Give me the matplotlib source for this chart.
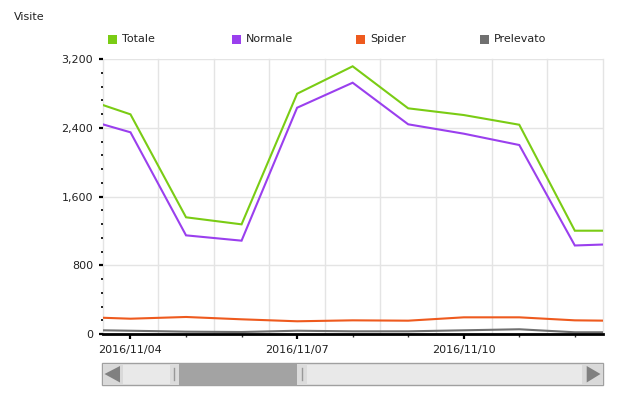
import matplotlib
matplotlib.use('Agg')
import matplotlib.pyplot as plt
import matplotlib.dates as mdates
from matplotlib.patches import Rectangle, Polygon
from matplotlib.ticker import MultipleLocator, FuncFormatter
from matplotlib.lines import Line2D
import numpy as np
from datetime import datetime, timedelta

# ---- data ----
dates = ['2016-11-03', '2016-11-04', '2016-11-05', '2016-11-06', '2016-11-07',
         '2016-11-08', '2016-11-09', '2016-11-10', '2016-11-11', '2016-11-12',
         '2016-11-13']
totale = [2774, 2556, 1358, 1276, 2796, 3115, 2626, 2548, 2435, 1202, 1202]
normale = [2533, 2347, 1148, 1086, 2633, 2924, 2440, 2331, 2199, 1030, 1052]
spider = [200, 178, 198, 171, 148, 159, 155, 194, 194, 159, 152]
prelevato = [48, 38, 27, 23, 38, 31, 31, 43, 55, 20, 20]

series_names = ['Totale', 'Normale', 'Spider', 'Prelevato']
series_values = [totale, normale, spider, prelevato]
series_colors = ['#7ACC14', '#9A3FEE', '#EE5A1E', '#707070']

y_title = 'Visite'
x_ticks_labeled = ['2016-11-04', '2016-11-07', '2016-11-10']

W, H = 621, 399
fig = plt.figure(figsize=(W / 100, H / 100), dpi=100)
plt.rcParams['font.family'] = ['DejaVu Sans']

# UI overlay in pixel coordinates (y downward)
ui = fig.add_axes([0, 0, 1, 1], zorder=-1)
ui.set_xlim(0, W)
ui.set_ylim(H, 0)
ui.axis('off')

ax = fig.add_axes([102.7 / W, (H - 334) / H, 499.9 / W, 275 / H])
ax.set_facecolor('none')

x = [datetime.strptime(d, '%Y-%m-%d') for d in dates]
for name, vals, col in zip(series_names, series_values, series_colors):
    ax.plot(x, vals, color=col, lw=1.5, solid_joinstyle='miter', zorder=3)

x0 = datetime(2016, 11, 3, 12)
x1 = datetime(2016, 11, 12, 12)
ax.set_xlim(x0, x1)
ax.set_ylim(0, 3200)

# grid
ax.yaxis.set_major_locator(MultipleLocator(800))
ax.yaxis.set_minor_locator(MultipleLocator(160))
ax.yaxis.set_major_formatter(FuncFormatter(lambda v, p: f'{int(v):,}'))
ax.grid(axis='y', which='major', color='#E4E4E4', lw=1, zorder=0)
noon = x0
while noon <= x1:
    ax.axvline(noon, color='#E4E4E4', lw=1, zorder=0, clip_on=False)
    noon += timedelta(days=1)

ax.set_xticks([datetime.strptime(d, '%Y-%m-%d') for d in x_ticks_labeled])
ax.xaxis.set_major_formatter(mdates.DateFormatter('%Y/%m/%d'))
ax.xaxis.set_minor_locator(mdates.DayLocator())

for s in ['left', 'top', 'right']:
    ax.spines[s].set_visible(False)
ax.spines['bottom'].set_linewidth(2.0)
ax.spines['bottom'].set_color('black')
ax.spines['bottom'].set_zorder(4)

ax.tick_params(axis='y', which='major', length=3.2, width=1.6, color='black',
               labelsize=8, labelcolor='#222222', pad=3.6)
ax.tick_params(axis='y', which='minor', length=1.6, width=1.2, color='black')
ax.tick_params(axis='x', which='major', length=3.8, width=1.6, color='black',
               labelsize=8, labelcolor='#222222', pad=4)
ax.tick_params(axis='x', which='minor', length=2.0, width=1.0, color='#333333')

# title
ui.text(14, 17, y_title, fontsize=8, color='#222222', ha='left', va='center')

# legend
for i, (name, col) in enumerate(zip(series_names, series_colors)):
    lx = 108 + i * 124
    ui.add_patch(Rectangle((lx, 35), 9, 9, facecolor=col, edgecolor='none'))
    ui.text(lx + 14, 39.5, name, fontsize=8, color='#222222', ha='left', va='center')

# scrollbar
ui.add_patch(Rectangle((101.7, 363.3), 501.6, 21.7, facecolor='#E9E9E9',
                       edgecolor='#A0A0A0', lw=1))
ui.add_patch(Rectangle((102.5, 364), 20.5, 20.5, facecolor='#D9D9D9', edgecolor='none'))
ui.add_patch(Polygon([(104.5, 374), (120, 366), (120, 382.5)], closed=True,
                     facecolor='#808080', edgecolor='none'))
ui.add_patch(Rectangle((582, 364), 20.8, 20.5, facecolor='#D9D9D9', edgecolor='none'))
ui.add_patch(Polygon([(586.7, 366), (586.7, 382.5), (600.5, 374)], closed=True,
                     facecolor='#808080', edgecolor='none'))
ui.add_patch(Rectangle((170, 364), 9.3, 20.5, facecolor='#DCDCDC', edgecolor='none'))
ui.add_patch(Rectangle((179.3, 364), 117.4, 20.5, facecolor='#A3A3A3', edgecolor='none'))
ui.add_patch(Rectangle((296.7, 364), 10, 20.5, facecolor='#DCDCDC', edgecolor='none'))
ui.plot([174, 174], [368, 380], color='#999999', lw=1)
ui.plot([302, 302], [368, 380], color='#999999', lw=1)

fig.savefig('out.png', dpi=100)
